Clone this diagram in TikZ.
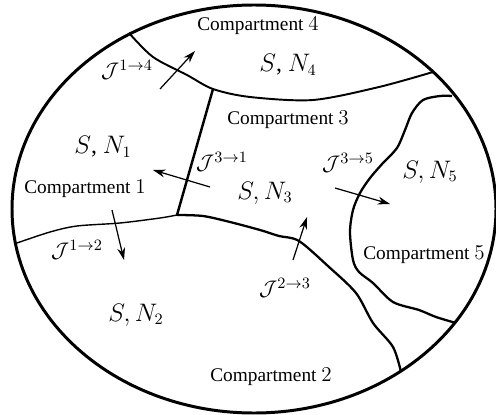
\documentclass[tikz,border=0pt]{standalone}
\usepackage{fontspec}
\setmainfont{Liberation Serif}
\usetikzlibrary{arrows.meta}
\tikzset{>={Stealth[length=7pt,width=4.5pt]}}
\tikzstyle{wall}=[line width=1.1pt,line join=round]
\tikzstyle{flux}=[->,line width=0.7pt]
\tikzstyle{comp}=[font=\fontsize{11}{13}\selectfont,inner sep=0pt]
\tikzstyle{conc}=[font=\fontsize{13.5}{16}\selectfont,inner sep=0pt]
\tikzstyle{rate}=[font=\fontsize{12.5}{15}\selectfont,inner sep=0pt]
\newcommand{\cnum}[1]{{\fontsize{12.5}{15}\selectfont$#1$}}

\begin{document}
\begin{tikzpicture}[x=0.02cm,y=-0.02cm]
    \useasboundingbox (0,0) rectangle (496,415);
    % Outer boundary of the domain
    \draw[line width=1.7pt] (254,209) ellipse [x radius=242, y radius=204];

    % Boundaries between the compartments
    \coordinate (k14) at (213,89); % corner 1-3-4
    \coordinate (k123) at (177,215); % corner 1-2-3
    \draw[wall] plot[smooth] coordinates {(129,33) (153,57) (187,75) (k14) (250,97) (313,100) (379,87) (433,72)};
    \draw[wall,line width=1.4pt] (k14) -- (k123);
    \draw[wall,line width=0.8pt] plot[smooth] coordinates {(17,243) (50,232) (77,226) (120,223) (160,218) (k123)};
    \draw[wall,line width=1.3pt] plot[smooth] coordinates {(k123) (203,216) (230,222) (260,230) (279,236) (299,241) (329,267) (356,293) (373,323) (393,347) (401,372)};
    \draw[wall,line width=1.3pt] plot[smooth] coordinates {(452,96) (440,96) (423,100) (412,113) (405,130) (397,148) (383,163) (370,178) (360,193) (353,210) (350,232) (353,260) (359,272) (373,283) (393,302) (419,310) (436,317) (456,323)};

    % Compartment names
    \node[comp] (c4) at (258,26) {Compartment \cnum{4}};
    \node[comp] (c1) at (85,189) {Compartment \cnum{1}};
    \node[comp] (c3) at (288,120) {Compartment \cnum{3}};
    \node[comp] (c5) at (424,255) {Compartment \cnum{5}};
    \node[comp] (c2) at (271,377) {Compartment \cnum{2}};

    % Contents of each compartment
    \node[conc] (n4) at (288,65) {$S$, $N_4$};
    \node[conc] (n1) at (103,147) {$S$, $N_1$};
    \node[conc] (n3) at (265,193) {$S,N_3$};
    \node[conc] (n5) at (430,172) {$S,N_5$};
    \node[conc] (n2) at (136,315) {$S,N_2$};

    % Fluxes across the boundaries
    \node[rate] (r14) at (127,70) {$\mathcal{J}^{1\to 4}$};
    \node[rate] (r31) at (222,162) {$\mathcal{J}^{3\to 1}$};
    \node[rate] (r35) at (348,163) {$\mathcal{J}^{3\to 5}$};
    \node[rate] (r12) at (77,250) {$\mathcal{J}^{1\to 2}$};
    \node[rate] (r23) at (285,288) {$\mathcal{J}^{2\to 3}$};
    \coordinate (a14) at (160,89);  \coordinate (b14) at (195,51);
    \coordinate (a31) at (210,187); \coordinate (b31) at (153,170);
    \coordinate (a35) at (335,188); \coordinate (b35) at (390,204);
    \coordinate (a12) at (112,210); \coordinate (b12) at (124,260);
    \coordinate (a23) at (293,260); \coordinate (b23) at (307,217);
    \draw[flux] (a14) -- (b14);
    \draw[flux] (a31) -- (b31);
    \draw[flux] (a35) -- (b35);
    \draw[flux] (a12) -- (b12);
    \draw[flux] (a23) -- (b23);
\end{tikzpicture}
\end{document}
